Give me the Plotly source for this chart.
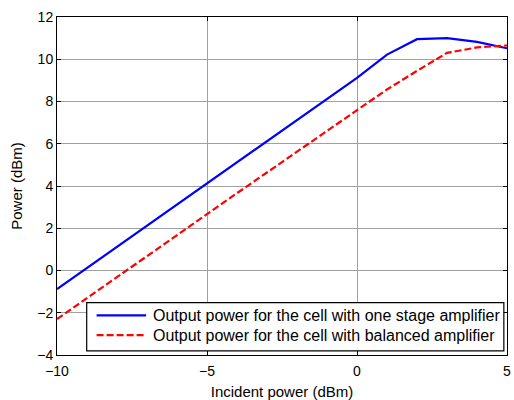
import plotly.graph_objects as go

incident = [-10, -9, -8, -7, -6, -5, -4, -3, -2, -1, 0, 1, 2, 3, 4, 5]
one_stage = [-0.88, 0.12, 1.12, 2.12, 3.12, 4.12, 5.12, 6.12, 7.12, 8.12, 9.12,
             10.22, 10.95, 11.0, 10.82, 10.52]
balanced = [-2.3, -1.3, -0.32, 0.68, 1.68, 2.68, 3.66, 4.64, 5.62, 6.6, 7.58,
            8.57, 9.45, 10.3, 10.56, 10.65]

series_names = ["Output power for the cell with one stage amplifier",
                "Output power for the cell with balanced amplifier"]
series_colors = ["#0000ff", "#ff0000"]
series_dash = ["solid", "7px,3px"]

x_ticks = [-10, -5, 0, 5]
y_ticks = [-4, -2, 0, 2, 4, 6, 8, 10, 12]

family = "Liberation Sans, Arial, sans-serif"
tick_font = dict(family=family, size=14, color="black")
title_font = dict(family=family, size=15, color="black")
legend_font = dict(family=family, size=16, color="black")

fig = go.Figure()
for ys, name, color, dash in zip([one_stage, balanced], series_names,
                                 series_colors, series_dash):
    fig.add_trace(go.Scatter(x=incident, y=ys, mode="lines", name=name,
                             line=dict(color=color, width=2.2, dash=dash)))

axis_common = dict(
    showline=True, linecolor="black", linewidth=1, mirror="ticks",
    ticks="inside", ticklen=4, tickcolor="black",
    showgrid=True, gridcolor="#a0a0a0", gridwidth=1,
    zeroline=False, tickfont=tick_font,
)

fig.update_xaxes(range=[-10, 5], tickvals=x_ticks, ticklabelstandoff=3,
                 ticklabeloverflow="allow",
                 title=dict(text="Incident power (dBm)", font=title_font, standoff=8),
                 **axis_common)
fig.update_yaxes(range=[-4, 12], tickvals=y_ticks,
                 title=dict(text="Power (dBm)", font=title_font, standoff=10),
                 **axis_common)

# Boxed legend in the lower part of the axes (paper coordinates)
box = dict(x0=0.066, x1=0.993, y0=0.012, y1=0.155)
row_y = [0.117, 0.059]
sample_x = (0.088, 0.198)
text_x = 0.209

shapes = [dict(type="rect", xref="paper", yref="paper", **box,
               fillcolor="white", line=dict(color="black", width=1.2), layer="above")]
annotations = []
for yr, name, color, dash in zip(row_y, series_names, series_colors, series_dash):
    shapes.append(dict(type="line", xref="paper", yref="paper",
                       x0=sample_x[0], x1=sample_x[1], y0=yr, y1=yr,
                       line=dict(color=color, width=2.2, dash=dash), layer="above"))
    annotations.append(dict(xref="paper", yref="paper", x=text_x, y=yr,
                            xanchor="left", yanchor="middle", showarrow=False,
                            text=name, font=legend_font))

fig.update_layout(
    width=514, height=400,
    margin=dict(l=57, r=3, t=17, b=42),
    paper_bgcolor="white", plot_bgcolor="white",
    showlegend=False,
    shapes=shapes,
    annotations=annotations,
)

fig.write_html("out.html")
